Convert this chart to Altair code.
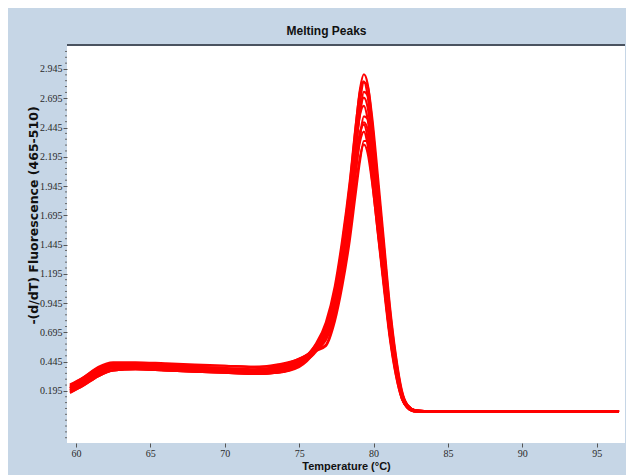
import altair as alt
import pandas as pd

# Temperature grid (°C) at which the curves were read
temps = [59.6, 60.5, 61.5, 62.5, 64, 66, 68, 70, 72, 73.5, 75, 76, 76.8, 77.4, 77.9,
         78.4, 78.8, 79.1, 79.35, 79.6, 79.9, 80.3, 80.7, 81.1, 81.5, 81.9, 82.3,
         82.8, 84, 88, 96.5]

curve_01 = [0.22, 0.29, 0.38, 0.42, 0.42, 0.41, 0.40, 0.39, 0.38, 0.39, 0.45, 0.56, 0.75, 1.05, 1.45, 1.95, 2.45, 2.78, 2.90, 2.82, 2.50, 1.95, 1.40, 0.85, 0.45, 0.17, 0.06, 0.025, 0.02, 0.02, 0.02]
curve_02 = [0.19, 0.25, 0.33, 0.37, 0.38, 0.37, 0.36, 0.35, 0.34, 0.35, 0.41, 0.57, 0.78, 1.09, 1.49, 1.98, 2.46, 2.76, 2.84, 2.72, 2.38, 1.82, 1.28, 0.76, 0.39, 0.14, 0.05, 0.02, 0.02, 0.02, 0.02]
curve_03 = [0.25, 0.31, 0.40, 0.44, 0.44, 0.43, 0.42, 0.41, 0.40, 0.42, 0.47, 0.55, 0.69, 0.94, 1.30, 1.76, 2.24, 2.58, 2.75, 2.72, 2.46, 1.95, 1.42, 0.89, 0.48, 0.19, 0.07, 0.03, 0.02, 0.02, 0.02]
curve_04 = [0.18, 0.24, 0.32, 0.37, 0.38, 0.37, 0.36, 0.35, 0.34, 0.35, 0.40, 0.52, 0.70, 0.98, 1.35, 1.81, 2.28, 2.59, 2.70, 2.62, 2.33, 1.81, 1.30, 0.79, 0.42, 0.16, 0.06, 0.025, 0.02, 0.02, 0.02]
curve_05 = [0.22, 0.28, 0.37, 0.41, 0.41, 0.40, 0.39, 0.38, 0.37, 0.38, 0.44, 0.57, 0.73, 1.01, 1.39, 1.84, 2.29, 2.56, 2.63, 2.52, 2.21, 1.69, 1.19, 0.71, 0.37, 0.14, 0.05, 0.02, 0.02, 0.02, 0.02]
curve_06 = [0.24, 0.31, 0.39, 0.43, 0.43, 0.42, 0.41, 0.41, 0.40, 0.41, 0.47, 0.54, 0.63, 0.86, 1.19, 1.61, 2.05, 2.38, 2.54, 2.52, 2.29, 1.82, 1.32, 0.83, 0.46, 0.18, 0.07, 0.03, 0.02, 0.02, 0.02]
curve_07 = [0.20, 0.27, 0.35, 0.39, 0.39, 0.38, 0.37, 0.36, 0.35, 0.36, 0.42, 0.52, 0.65, 0.90, 1.25, 1.68, 2.11, 2.39, 2.49, 2.43, 2.15, 1.68, 1.20, 0.73, 0.39, 0.15, 0.06, 0.025, 0.02, 0.02, 0.02]
curve_08 = [0.18, 0.24, 0.32, 0.37, 0.38, 0.37, 0.36, 0.35, 0.34, 0.35, 0.42, 0.54, 0.67, 0.92, 1.26, 1.68, 2.08, 2.33, 2.41, 2.30, 2.00, 1.53, 1.07, 0.64, 0.33, 0.13, 0.05, 0.02, 0.02, 0.02, 0.02]
curve_09 = [0.22, 0.29, 0.38, 0.41, 0.41, 0.40, 0.39, 0.38, 0.37, 0.39, 0.45, 0.53, 0.58, 0.79, 1.09, 1.48, 1.88, 2.17, 2.33, 2.33, 2.12, 1.69, 1.23, 0.77, 0.42, 0.17, 0.07, 0.03, 0.02, 0.02, 0.02]
curve_10 = [0.23, 0.30, 0.39, 0.42, 0.42, 0.41, 0.40, 0.39, 0.38, 0.40, 0.46, 0.54, 0.59, 0.83, 1.15, 1.54, 1.94, 2.20, 2.30, 2.23, 1.98, 1.54, 1.11, 0.67, 0.36, 0.14, 0.05, 0.02, 0.02, 0.02, 0.02]
curve_11 = [0.20, 0.26, 0.34, 0.39, 0.40, 0.39, 0.38, 0.37, 0.36, 0.37, 0.43, 0.51, 0.67, 0.93, 1.31, 1.80, 2.30, 2.67, 2.83, 2.80, 2.54, 2.02, 1.47, 0.92, 0.50, 0.20, 0.07, 0.03, 0.02, 0.02, 0.02]
curve_12 = [0.21, 0.27, 0.36, 0.40, 0.40, 0.39, 0.38, 0.37, 0.36, 0.38, 0.44, 0.55, 0.69, 0.95, 1.31, 1.74, 2.15, 2.41, 2.47, 2.36, 2.05, 1.57, 1.10, 0.66, 0.34, 0.13, 0.05, 0.02, 0.02, 0.02, 0.02]

curves = [curve_01, curve_02, curve_03, curve_04, curve_05, curve_06,
          curve_07, curve_08, curve_09, curve_10, curve_11, curve_12]

y_ticks = [0.195, 0.445, 0.695, 0.945, 1.195, 1.445, 1.695, 1.945, 2.195, 2.445, 2.695, 2.945]
y_minor = [-0.205, -0.155, -0.105, -0.055, -0.005, 0.045, 0.095, 0.145,
           0.245, 0.295, 0.345, 0.395, 0.495, 0.545, 0.595, 0.645,
           0.745, 0.795, 0.845, 0.895, 0.995, 1.045, 1.095, 1.145,
           1.245, 1.295, 1.345, 1.395, 1.495, 1.545, 1.595, 1.645,
           1.745, 1.795, 1.845, 1.895, 1.995, 2.045, 2.095, 2.145,
           2.245, 2.295, 2.345, 2.395, 2.495, 2.545, 2.595, 2.645,
           2.745, 2.795, 2.845, 2.895, 2.995, 3.045, 3.095]
x_ticks = [60, 65, 70, 75, 80, 85, 90, 95]

rows = []
for i, c in enumerate(curves):
    for t, v in zip(temps, c):
        rows.append({"T": t, "v": v, "curve": f"s{i + 1:02d}"})
df = pd.DataFrame(rows)

W, H = 558, 398
x_scale = alt.Scale(domain=[59.4, 96.9], nice=False, zero=False)
y_scale = alt.Scale(domain=[-0.25, 3.15], nice=False, zero=False)

y_axis = alt.Axis(values=y_ticks, format=".3f", labelOverlap=False,
                  title="-(d/dT) Fluorescence (465-510)",
                  titleFont="DejaVu Sans", titleFontSize=12.5,
                  tickSize=4, labelPadding=1, titleX=-27, titleY=170)

lines = alt.Chart(df).mark_line(
    color="#ff0000", strokeWidth=2.2, interpolate="monotone", clip=True
).encode(
    x=alt.X("T:Q", scale=x_scale,
            axis=alt.Axis(values=x_ticks, format="d", title="Temperature (°C)",
                          tickSize=4, labelPadding=1, titlePadding=2,
                          titleFont="Liberation Sans", titleFontSize=11)),
    y=alt.Y("v:Q", scale=y_scale, axis=y_axis),
    detail="curve:N",
)

minor = alt.Chart(pd.DataFrame({"m": y_minor})).mark_rule(
    color="#666666", strokeWidth=1
).encode(
    y=alt.Y("m:Q", scale=y_scale, axis=y_axis),
    x=alt.value(-2), x2=alt.value(0),
)

top_border = alt.Chart(pd.DataFrame({"a": [0]})).mark_rule(
    color="#4a5360", strokeWidth=2
).encode(x=alt.value(0), x2=alt.value(W), y=alt.value(0))

chart = alt.layer(lines, minor, top_border).properties(
    width=W, height=H,
    autosize=alt.AutoSizeParams(type="none"),
    padding={"left": 59, "top": 37, "right": 1, "bottom": 32},
    title=alt.Title("Melting Peaks", anchor="middle", frame="bounds",
                    font="Liberation Sans", fontSize=12, fontWeight="bold",
                    color="#111111", offset=6),
).configure(
    background="#c6d6e6",
).configure_view(
    fill="white", strokeWidth=0,
).configure_axis(
    grid=False, domain=False, labelOverlap=False,
    labelFont="Liberation Sans Narrow", labelFontSize=10, labelColor="#2a2a2a",
    tickColor="#555555",
    titleFontWeight="bold", titleColor="#111111",
)

chart.save("out.html", embed_options={"renderer": "svg", "actions": False})
